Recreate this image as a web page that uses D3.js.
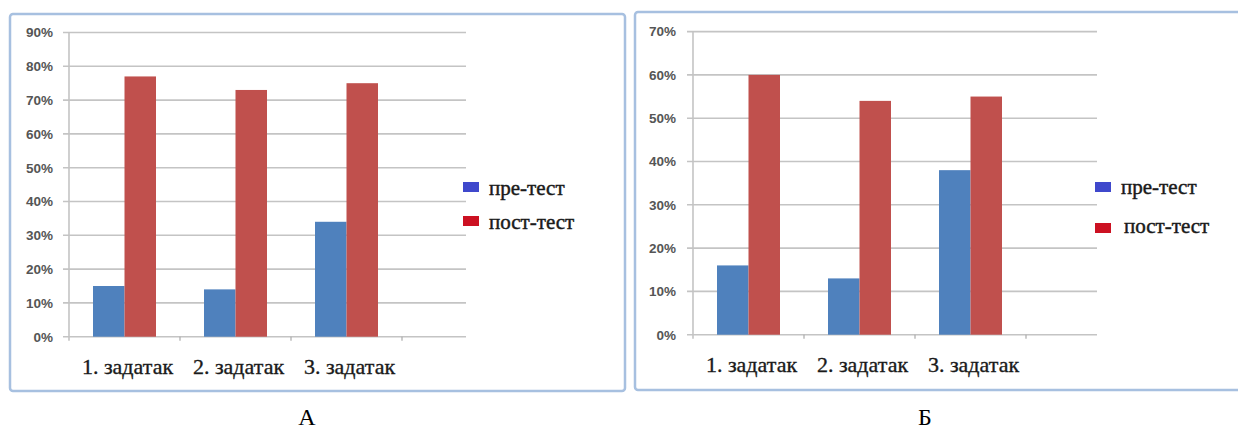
<!DOCTYPE html>
<html>
<head>
<meta charset="utf-8">
<script src="https://cdn.jsdelivr.net/npm/d3@7"></script>
<style>
  html, body { margin: 0; padding: 0; background: #fff; }
  svg { display: block; }
</style>
</head>
<body>
<svg id="chart" width="1238" height="430"></svg>
<script>
// Shared categories and series
const categories = ["1. задатак", "2. задатак", "3. задатак"];
const seriesNames = ["пре-тест", "пост-тест"];

// Panel А (percent)
const preA = [15, 14, 34];
const postA = [77, 73, 75];
const ticksA = [0, 10, 20, 30, 40, 50, 60, 70, 80, 90];

// Panel Б (percent)
const preB = [16, 13, 38];
const postB = [60, 54, 55];
const ticksB = [0, 10, 20, 30, 40, 50, 60, 70];

const panelLabels = ["А", "Б"];

const barColors = ["#4f81bd", "#c0504d"];
const legendColors = ["#3f48cc", "#cc1122"];

const SERIF = "'Liberation Serif', 'Times New Roman', serif";
const SANS = "'Liberation Sans', Arial, sans-serif";

const svg = d3.select("#chart");

function drawPanel(cfg) {
  const g = svg.append("g");

  // frame
  g.append("rect")
    .attr("x", cfg.frame.x).attr("y", cfg.frame.y)
    .attr("width", cfg.frame.w).attr("height", cfg.frame.h)
    .attr("rx", 3)
    .attr("fill", "none")
    .attr("stroke", "#a7c0e0")
    .attr("stroke-width", 2.5);

  const y = d3.scaleLinear()
    .domain([0, d3.max(cfg.ticks)])
    .range([cfg.y0, cfg.yTop]);

  const x = d3.scaleBand()
    .domain(cfg.categories)
    .range([cfg.x0, cfg.x0 + cfg.band * cfg.categories.length])
    .paddingInner(0).paddingOuter(0);

  const xs = d3.scaleBand()
    .domain(d3.range(cfg.series.length))
    .range([0, cfg.barW * cfg.series.length]);

  // gridlines
  g.append("g").selectAll("line")
    .data(cfg.ticks)
    .join("line")
    .attr("x1", cfg.x0 - 6)
    .attr("x2", cfg.gridEnd)
    .attr("y1", d => y(d)).attr("y2", d => y(d))
    .attr("stroke", "#c4c4c4")
    .attr("stroke-width", 1.6);

  // value axis line
  g.append("line")
    .attr("x1", cfg.x0).attr("x2", cfg.x0)
    .attr("y1", y(d3.max(cfg.ticks))).attr("y2", cfg.y0 + 4)
    .attr("stroke", "#c4c4c4")
    .attr("stroke-width", 1.6);

  // category tick marks at band boundaries
  const bounds = cfg.categories.map(c => x(c) + x.bandwidth());
  g.append("g").selectAll("line")
    .data(bounds)
    .join("line")
    .attr("x1", d => d).attr("x2", d => d)
    .attr("y1", cfg.y0).attr("y2", cfg.y0 + 4)
    .attr("stroke", "#aaaaaa")
    .attr("stroke-width", 1.2);

  // y tick labels
  g.append("g").selectAll("text")
    .data(cfg.ticks)
    .join("text")
    .attr("x", cfg.labelRight)
    .attr("y", d => y(d))
    .attr("dy", "0.36em")
    .attr("text-anchor", "end")
    .attr("font-family", SANS)
    .attr("font-weight", "bold")
    .attr("font-size", 13.5)
    .attr("fill", "#555555")
    .text(d => d + "%");

  // bars
  const groups = g.append("g").selectAll("g")
    .data(cfg.categories)
    .join("g")
    .attr("transform", c => `translate(${x(c) + (x.bandwidth() - xs.range()[1]) / 2},0)`);

  groups.selectAll("rect")
    .data((c, i) => cfg.series.map((s, k) => ({ k, v: s[i] })))
    .join("rect")
    .attr("x", d => xs(d.k))
    .attr("width", xs.bandwidth())
    .attr("y", d => y(d.v))
    .attr("height", d => y(0) - y(d.v))
    .attr("fill", d => barColors[d.k]);

  // category labels
  g.append("g").selectAll("text")
    .data(cfg.categories)
    .join("text")
    .attr("x", c => x(c) + x.bandwidth() / 2 + 3)
    .attr("y", cfg.catLabelY)
    .attr("text-anchor", "middle")
    .attr("font-family", SERIF)
    .attr("font-size", 22)
    .attr("fill", "#1a1a1a")
    .attr("stroke", "#1a1a1a")
    .attr("stroke-width", 0.35)
    .text(c => c);

  // legend
  const lg = g.append("g");
  cfg.legend.forEach((item, i) => {
    lg.append("rect")
      .attr("x", item.sx).attr("y", item.sy)
      .attr("width", 16).attr("height", 10)
      .attr("fill", legendColors[i]);
    lg.append("text")
      .attr("x", item.tx).attr("y", item.ty)
      .attr("font-family", SERIF)
      .attr("font-size", 21)
      .attr("fill", "#1a1a1a")
      .attr("stroke", "#1a1a1a")
      .attr("stroke-width", 0.45)
      .text(seriesNames[i]);
  });

  // panel caption
  g.append("text")
    .attr("x", cfg.captionX).attr("y", 425)
    .attr("text-anchor", "middle")
    .attr("font-family", SERIF)
    .attr("font-size", 24)
    .attr("fill", "#000")
    .text(cfg.caption);
}

drawPanel({
  frame: { x: 10, y: 14, w: 615, h: 377 },
  categories, series: [preA, postA], ticks: ticksA,
  x0: 69, band: 111, barW: 31.5, gridEnd: 466,
  y0: 336.7, yTop: 32.5, labelRight: 53,
  catLabelY: 374,
  legend: [
    { sx: 463, sy: 182, tx: 489, ty: 195 },
    { sx: 463, sy: 216, tx: 489, ty: 229 }
  ],
  captionX: 307, caption: panelLabels[0]
});

drawPanel({
  frame: { x: 635, y: 12, w: 620, h: 378 },
  categories, series: [preB, postB], ticks: ticksB,
  x0: 693, band: 111, barW: 31.5, gridEnd: 1097,
  y0: 334.7, yTop: 31.6, labelRight: 676,
  catLabelY: 372,
  legend: [
    { sx: 1095, sy: 182, tx: 1121, ty: 194 },
    { sx: 1095, sy: 223, tx: 1124, ty: 233 }
  ],
  captionX: 925, caption: panelLabels[1]
});
</script>
</body>
</html>
